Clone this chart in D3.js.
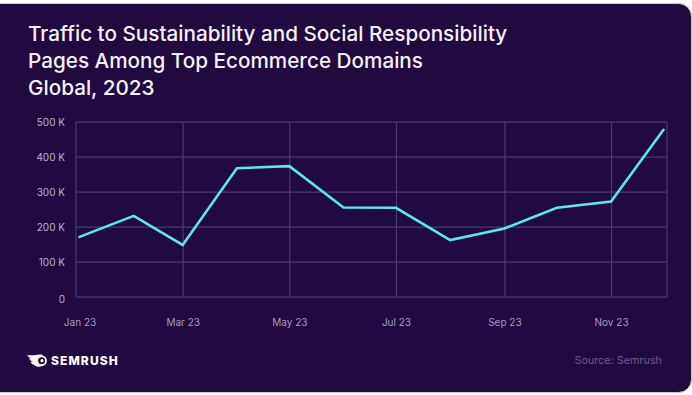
<!DOCTYPE html>
<html>
<head>
<meta charset="utf-8">
<script src="https://cdn.jsdelivr.net/npm/d3@7"></script>
<style>
  html, body { margin: 0; padding: 0; background: #fff; }
  svg { display: block; }
  text { font-family: Inter, "Noto Sans", sans-serif; }
</style>
</head>
<body>
<svg id="chart" width="692" height="395"></svg>
<script>
// values
const months = ["2023-01", "2023-02", "2023-03", "2023-04", "2023-05", "2023-06",
                "2023-07", "2023-08", "2023-09", "2023-10", "2023-11", "2023-12"];
const traffic = [171000, 231000, 148000, 367000, 373000, 255000,
                 254000, 162000, 195000, 254000, 272000, 477000];
const yTicks = [0, 100000, 200000, 300000, 400000, 500000];
const labelMonths = ["2023-01", "2023-03", "2023-05", "2023-07", "2023-09", "2023-11"];
const titleLines = ["Traffic to Sustainability and Social Responsibility",
                    "Pages Among Top Ecommerce Domains",
                    "Global, 2023"];

const parseMonth = d3.utcParse("%Y-%m");
const svg = d3.select("#chart");

const plotLeft = 76, plotRight = 667, plotTop = 121.7, plotBottom = 296.7;

// card
svg.append("rect")
   .attr("x", -14).attr("y", 3.5)
   .attr("width", 705.5).attr("height", 389)
   .attr("rx", 13)
   .attr("fill", "#210a40")
   .attr("stroke", "#c9c6d0")
   .attr("stroke-width", 1);

// title
svg.append("g").selectAll("text")
   .data(titleLines)
   .enter()
   .append("text")
   .attr("x", 28)
   .attr("y", (d, i) => 41 + i * 27)
   .attr("fill", "#f4f1f7")
   .attr("font-size", 20.7)
   .attr("font-weight", 500)
   .text(d => d);

// scales - time scale, months aren't evenly spaced in the line
const x = d3.scaleUtc()
    .domain([new Date(Date.UTC(2022, 11, 30)), new Date(Date.UTC(2023, 11, 3))])
    .range([plotLeft, plotRight]);
const y = d3.scaleLinear().domain([0, 500000]).range([plotBottom, plotTop]);

const gridColor = "#4e3a6e";

// horizontal grid + y labels
const yAxis = svg.append("g")
    .attr("transform", `translate(${plotLeft},0)`)
    .call(d3.axisLeft(y)
        .tickValues(yTicks)
        .tickSize(-(plotRight - plotLeft))
        .tickPadding(11)
        .tickFormat(d => d === 0 ? "0" : d / 1000 + " K"));
yAxis.select(".domain").remove();
yAxis.selectAll("line").attr("stroke", gridColor).attr("stroke-width", 1.2);
yAxis.selectAll("text")
     .attr("fill", "#bdb4cd")
     .attr("font-size", 10)
     .attr("dy", d => d === 0 ? "0.55em" : "0.4em");

// vertical grid, no line at Jan - the frame sits just left of it
const xGrid = svg.append("g")
    .attr("transform", `translate(0,${plotBottom})`)
    .call(d3.axisBottom(x)
        .tickValues(labelMonths.slice(1).map(parseMonth))
        .tickSize(-(plotBottom - plotTop))
        .tickFormat(""));
xGrid.select(".domain").remove();
xGrid.selectAll("line").attr("stroke", gridColor).attr("stroke-width", 1.2);

// frame left/right
svg.append("g").selectAll("line")
   .data([plotLeft, plotRight])
   .enter()
   .append("line")
   .attr("x1", d => d).attr("x2", d => d)
   .attr("y1", plotTop).attr("y2", plotBottom)
   .attr("stroke", gridColor)
   .attr("stroke-width", 1.2);

// x labels
const xAxis = svg.append("g")
    .attr("transform", `translate(0,${plotBottom})`)
    .call(d3.axisBottom(x)
        .tickValues(labelMonths.map(parseMonth))
        .tickSize(0)
        .tickPadding(22.5)
        .tickFormat(d3.utcFormat("%b %y")));
xAxis.select(".domain").remove();
xAxis.selectAll("text")
     .attr("fill", "#a89cbc")
     .attr("font-size", 10);

// line
const line = d3.line()
    .x((d, i) => x(parseMonth(months[i])))
    .y(d => y(d));

svg.append("path")
   .datum(traffic)
   .attr("d", line)
   .attr("fill", "none")
   .attr("stroke", "#5ce6ee")
   .attr("stroke-width", 2.6)
   .attr("stroke-linejoin", "miter")
   .attr("stroke-linecap", "round");

// logo
const logo = svg.append("g").attr("transform", "translate(27,354.7)");
logo.append("path")
    .attr("d", "M0 0.5 H8 C11 -0.5 15 -0.7 17 0.6 C12.5 1 10 3 10 6 C10 9 12 11.5 15 11.7 C12 12.6 9 12 7 10 C5.5 9.8 4 8.5 3.5 7 H6 C4 6 2.5 5 2 3.5 H4 C2.5 2.8 1 1.7 0 0.5 Z")
    .attr("fill", "#fff");
logo.append("circle")
    .attr("cx", 14.6).attr("cy", 6)
    .attr("r", 4.4)
    .attr("fill", "none")
    .attr("stroke", "#fff")
    .attr("stroke-width", 1.8);
logo.append("circle")
    .attr("cx", 15).attr("cy", 6)
    .attr("r", 1.6)
    .attr("fill", "#fff");
svg.append("text")
   .attr("x", 51)
   .attr("y", 365)
   .attr("fill", "#fff")
   .attr("font-size", 12)
   .attr("font-weight", 800)
   .attr("letter-spacing", 1.1)
   .text("SEMRUSH");

// source
svg.append("text")
   .attr("x", 662)
   .attr("y", 364)
   .attr("text-anchor", "end")
   .attr("fill", "#6d5a90")
   .attr("font-size", 10.8)
   .text("Source: Semrush");
</script>
</body>
</html>
